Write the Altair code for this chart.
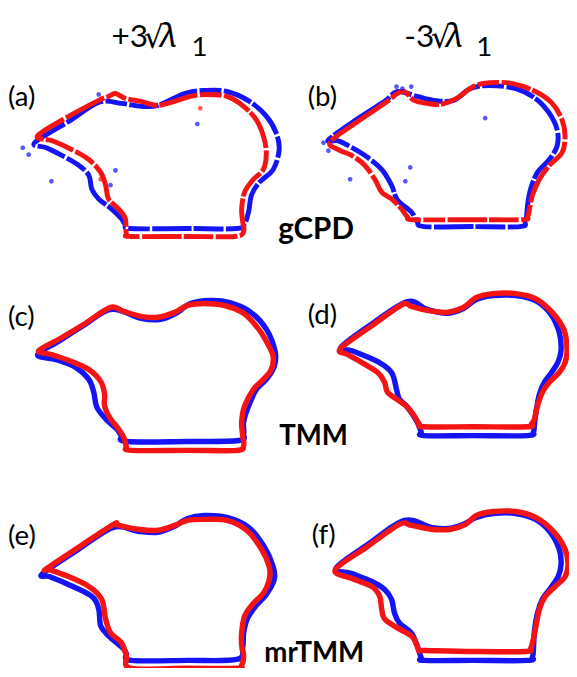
import altair as alt
import pandas as pd

# ---- outline data (pixel-space coordinates) ----
a_blue = [(35,140),(70,118),(100,99),(123,100),(143,103),(160,102),(187,90),(207,87),(230,88),(253,98),(270,113),(280,130),(283,147),(277,167),(263,180),(255,193),(252,210),(248,222),(240,227),(190,227),(133,227),(127,223),(123,217),(113,207),(100,197),(93,187),(90,173),(80,163),(63,153),(47,145)]
a_red = [(38,133),(70,113),(100,97),(110,93),(117,90),(127,95),(143,98),(160,102),(177,98),(193,93),(210,91),(230,93),(247,103),(260,117),(267,133),(270,150),(267,167),(257,177),(248,190),(245,207),(246,220),(247,230),(238,235),(190,235),(133,235),(128,232),(127,217),(120,207),(110,197),(107,183),(102,170),(90,157),(73,147),(53,138)]
b_blue = [(333,137),(362,116),(390,98),(403,88),(423,93),(440,97),(460,97),(477,85),(497,82),(523,85),(543,95),(557,110),(565,127),(565,143),(557,157),(545,170),(538,187),(535,203),(533,220),(527,225),(480,225),(430,225),(423,220),(417,210),(403,198),(397,183),(387,167),(373,155),(357,145),(343,138)]
b_red = [(335,139),(362,119),(390,100),(403,90),(410,88),(420,97),(433,100),(447,101),(463,95),(480,83),(497,79),(520,80),(543,88),(560,100),(570,117),(573,133),(570,150),(557,163),(547,177),(540,193),(537,207),(535,215),(530,218),(480,218),(420,218),(413,215),(407,207),(397,197),(387,190),(380,177),(370,163),(357,153),(343,147)]
c_blue = [(38,355),(60,341),(85,325),(113,309),(143,318),(163,319),(180,312),(193,303),(213,300),(233,302),(253,311),(270,329),(279,352),(278,367),(270,380),(260,390),(252,407),(247,423),(247,435),(242,442),(190,443),(128,443),(123,437),(118,430),(107,420),(98,408),(95,393),(90,380),(77,368),(57,360)]
c_red = [(39,351),(60,339),(85,324),(112,307),(125,311),(143,316),(160,317),(177,312),(190,305),(207,303),(227,305),(247,313),(263,330),(273,347),(277,357),(275,370),(267,380),(257,390),(248,407),(245,423),(246,437),(247,447),(240,452),(190,452),(133,452),(128,448),(126,440),(120,430),(112,420),(106,407),(106,395),(102,382),(90,370),(73,362),(53,355)]
d_blue = [(346,347),(378,323),(413,301),(433,309),(453,313),(470,308),(483,299),(500,295),(523,295),(543,300),(558,313),(567,332),(569,350),(566,362),(560,372),(552,383),(547,395),(544,410),(542,425),(541,433),(535,437),(480,437),(430,437),(427,433),(423,423),(413,408),(405,400),(402,390),(397,373),(383,362),(357,351)]
d_red = [(345,349),(375,327),(408,304),(417,306),(433,310),(453,312),(470,307),(483,297),(500,293),(523,293),(543,298),(560,312),(572,330),(575,350),(573,363),(567,373),(557,383),(550,393),(545,407),(542,420),(539,425),(535,428),(480,428),(430,428),(425,425),(420,417),(413,408),(405,402),(393,393),(390,383),(383,373),(367,363),(353,355)]
e_blue = [(43,577),(80,552),(115,530),(140,534),(160,535),(177,529),(190,521),(207,518),(230,520),(252,530),(268,550),(277,570),(278,583),(270,598),(260,609),(251,622),(247,637),(246,652),(240,664),(190,665),(133,665),(128,658),(125,653),(110,640),(102,630),(100,613),(93,600),(67,587),(50,580)]
e_red = [(47,572),(80,550),(115,527),(120,528),(140,532),(160,533),(177,528),(190,523),(207,522),(230,523),(250,533),(265,552),(273,570),(273,583),(267,597),(257,607),(248,620),(245,637),(245,650),(247,660),(245,670),(240,673),(190,673),(133,673),(128,660),(123,647),(112,637),(107,623),(103,603),(90,590),(67,579),(50,573)]
f_blue = [(341,571),(375,546),(410,523),(437,530),(457,531),(472,526),(483,520),(500,516),(523,516),(543,522),(558,535),(567,552),(569,567),(566,580),(558,592),(550,603),(545,617),(542,635),(541,652),(540,661),(535,665),(480,665),(430,665),(427,662),(423,650),(417,637),(405,627),(400,617),(397,603),(390,593),(377,585),(357,577)]
f_red = [(340,573),(372,550),(405,527),(417,528),(437,532),(457,532),(472,527),(483,518),(500,514),(523,514),(543,520),(560,533),(572,550),(576,567),(573,580),(563,590),(553,600),(547,613),(543,633),(540,647),(538,653),(533,656),(480,656),(430,655),(425,655),(422,648),(417,640),(403,632),(390,623),(387,613),(385,600),(377,590),(357,582)]

a_blue_out = [(23,145),(29,152),(52,179),(117,168),(112,183),(200,121),(100,91)]
a_red_out = [(203,105),(102,177)]
b_blue_out = [(328,140),(333,148),(355,177),(416,165),(411,179),(492,115),(402,83),(408,85),(417,83)]

curves = {
    "a_blue": (a_blue, "blue", "gcpd"), "a_red": (a_red, "red", "gcpd"),
    "b_blue": (b_blue, "blue", "gcpd"), "b_red": (b_red, "red", "gcpd"),
    "c_blue": (c_blue, "blue", "tmm"), "c_red": (c_red, "red", "tmm"),
    "d_blue": (d_blue, "blue", "tmm"), "d_red": (d_red, "red", "tmm"),
    "e_blue": (e_blue, "blue", "tmm"), "e_red": (e_red, "red", "tmm"),
    "f_blue": (f_blue, "blue", "tmm"), "f_red": (f_red, "red", "tmm"),
}

rows = []
for name, (pts, col, kind) in curves.items():
    for i, (x, y) in enumerate(pts):
        rows.append({"curve": name, "col": col, "kind": kind, "i": i, "x": x, "y": y})
df = pd.DataFrame(rows)

out_rows = []
for pts, col in [(a_blue_out, "blue"), (a_red_out, "red"), (b_blue_out, "blue")]:
    for x, y in pts:
        out_rows.append({"x": x, "y": y, "col": col})
df_out = pd.DataFrame(out_rows)

BLUE = "#1414f5"
RED = "#f51414"

X = alt.X("x:Q", scale=alt.Scale(domain=[8, 577], nice=False, zero=False), axis=None)
Y = alt.Y("y:Q", scale=alt.Scale(domain=[8, 668], reverse=True, nice=False, zero=False), axis=None)

def curve_layer(col, kind, color):
    sub = df[(df.col == col) & (df.kind == kind)]
    kw = dict(interpolate="cardinal-closed", strokeWidth=5.5, color=color, clip=False,
              strokeCap="butt", strokeJoin="round")
    if kind == "gcpd":
        kw["strokeDash"] = [40, 2.5, 22, 2.5, 30, 2]
        kw["strokeWidth"] = 5
    return alt.Chart(sub).mark_line(**kw).encode(x=X, y=Y, detail="curve:N", order="i:Q")

layers = [
    curve_layer("blue", "gcpd", BLUE),
    curve_layer("blue", "tmm", BLUE),
    curve_layer("red", "gcpd", RED),
    curve_layer("red", "tmm", RED),
]

star = "M-1,0L1,0M0,-1L0,1M-0.7,-0.7L0.7,0.7M-0.7,0.7L0.7,-0.7"
for col, color in [("blue", BLUE), ("red", RED)]:
    layers.append(
        alt.Chart(df_out[df_out.col == col]).mark_point(shape=star, size=22, stroke=color, strokeWidth=1.6, clip=False)
        .encode(x=X, y=Y)
    )

# ---- text ----
sign_texts = ["+3", "-3"]
sign_x = [113, 410]
root_x = [146, 437]
lam_x = [162, 452]
sub_x = [194, 483]
panel_labels = ["(a)", "(b)", "(c)", "(d)", "(e)", "(f)"]
panel_x = [8, 312, 8, 312, 8, 316]
panel_y = [103, 103, 326, 324, 548, 547]
method_labels = ["gCPD", "TMM", "mrTMM"]
method_x = [282, 283, 268]
method_y = [238, 447, 667]
method_size = [30, 28, 28]

def text_layer(xs, ys, texts, **kw):
    d = pd.DataFrame({"x": xs, "y": ys, "t": texts})
    return alt.Chart(d).mark_text(align="left", baseline="alphabetic", color="black", clip=False, **kw).encode(
        x=X, y=Y, text="t:N")

layers.append(text_layer(sign_x, [43, 43], sign_texts, font="Lato", fontSize=32))
layers.append(text_layer(root_x, [44, 44], ["\u221a", "\u221a"], font="DejaVu Sans", fontSize=31))
layers.append(text_layer(lam_x, [43, 43], ["\u03bb", "\u03bb"], font="Noto Sans", fontSize=34, fontStyle="italic"))
layers.append(text_layer(sub_x, [52, 52], ["1", "1"], font="Lato", fontSize=28))
layers.append(text_layer(panel_x, panel_y, panel_labels, font="Lato", fontSize=28))
for lbl, mx, my, ms in zip(method_labels, method_x, method_y, method_size):
    layers.append(text_layer([mx], [my], [lbl], font="Lato", fontSize=ms, fontWeight="bold"))

chart = alt.layer(*layers).properties(width=569, height=660, padding=0, autosize="none").configure_view(stroke=None)

chart.save("out.html", embed_options={"renderer": "svg", "actions": False})
